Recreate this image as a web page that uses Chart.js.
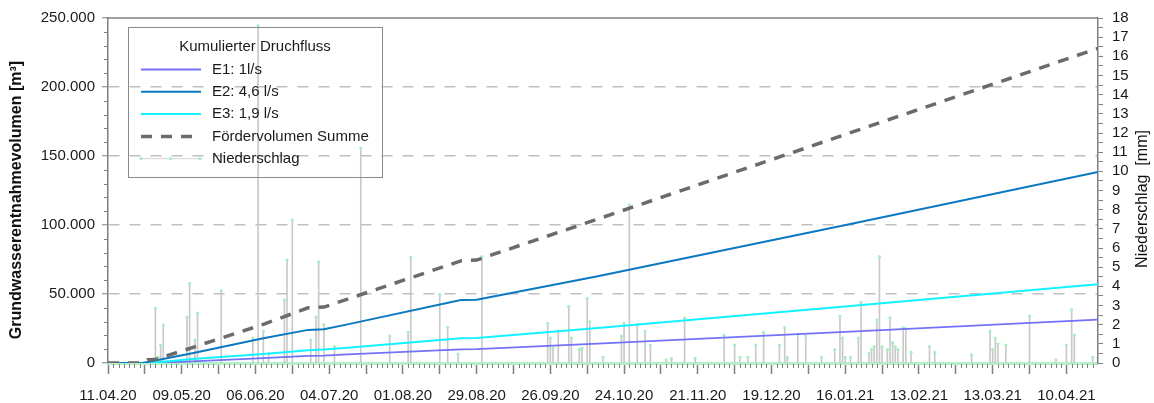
<!DOCTYPE html>
<html>
<head>
<meta charset="utf-8">
<script src="https://cdn.jsdelivr.net/npm/chart.js@4.4.1/dist/chart.umd.min.js"></script>
<style>
  html, body { margin: 0; padding: 0; background: #fff; }
</style>
</head>
<body>
<canvas id="chart" width="1154" height="403"></canvas>
<script>
// cumulative volumes [m³] at break points
const flowDates = ['11.04.20', '24.04.20', '26.04.20', '29.04.20', '13.05.20', '09.06.20', '26.06.20',
                   '02.07.20', '11.07.20', '23.08.20', '29.08.20', '14.10.20', '18.01.21', '22.04.21'];
const e1Values  = [0, 0, 0, 0, 1250, 3600, 5200, 5400, 6200, 9900, 10100, 14000, 22700, 31400];
const e2Values  = [0, 0, 700, 1800, 7000, 17900, 24000, 24500, 28000, 45600, 45800, 62800, 100800, 138400];
const e3Values  = [0, 0, 0, 300, 2900, 6500, 9300, 9700, 11100, 17900, 18200, 25400, 41300, 57000];
const sumValues = [0, 0, 2300, 2500, 11200, 28000, 40000, 40500, 46300, 74000, 74600, 104300, 166900, 228000];

// precipitation [mm]
const rainDates = ['29.04.20', '30.04.20', '01.05.20', '02.05.20', '11.05.20', '12.05.20', '14.05.20', '15.05.20',
  '24.05.20', '05.06.20', '07.06.20', '09.06.20', '11.06.20', '17.06.20', '18.06.20', '20.06.20', '27.06.20',
  '29.06.20', '30.06.20', '02.07.20', '06.07.20', '16.07.20', '27.07.20', '03.08.20', '04.08.20', '15.08.20',
  '18.08.20', '22.08.20', '31.08.20', '25.09.20', '26.09.20', '27.09.20', '29.09.20', '03.10.20', '04.10.20',
  '07.10.20', '08.10.20', '10.10.20', '11.10.20', '16.10.20', '23.10.20', '24.10.20', '26.10.20', '29.10.20',
  '01.11.20', '03.11.20', '09.11.20', '11.11.20', '16.11.20', '20.11.20', '01.12.20', '05.12.20', '07.12.20',
  '10.12.20', '13.12.20', '16.12.20', '22.12.20', '24.12.20', '25.12.20', '29.12.20', '01.01.21', '07.01.21',
  '12.01.21', '14.01.21', '15.01.21', '16.01.21', '18.01.21', '21.01.21', '22.01.21', '25.01.21', '26.01.21',
  '27.01.21', '28.01.21', '29.01.21', '30.01.21', '01.02.21', '02.02.21', '03.02.21', '04.02.21', '05.02.21',
  '07.02.21', '08.02.21', '10.02.21', '17.02.21', '19.02.21', '05.03.21', '12.03.21', '13.03.21', '14.03.21',
  '15.03.21', '18.03.21', '27.03.21', '06.04.21', '10.04.21', '12.04.21', '13.04.21', '20.04.21'];
const rainValues = [2.85, 0.3, 0.94, 1.98, 2.4, 4.16, 1.2, 2.6,
  3.77, 1.3, 17.6, 1.67, 0.5, 3.3, 5.37, 7.46, 1.2,
  2.4, 5.28, 2.0, 0.85, 11.2, 1.41, 1.6, 5.51, 3.58,
  1.86, 0.47, 5.55, 2.07, 1.3, 0.77, 1.67, 2.94, 1.3,
  0.7, 0.77, 3.37, 2.15, 0.3, 1.4, 2.07, 8.24, 2.0,
  1.67, 0.94, 0.16, 0.24, 2.36, 0.24, 1.44, 0.94, 0.3,
  0.3, 0.94, 1.6, 0.94, 1.84, 0.3, 1.5, 1.41, 0.3,
  0.7, 2.45, 1.3, 0.3, 0.3, 1.3, 3.17, 0.5, 0.7,
  0.85, 2.24, 5.55, 0.85, 0.7, 2.36, 1.07, 0.85, 0.7,
  1.84, 1.8, 0.55, 0.85, 0.55, 0.42, 1.67, 0.7, 1.3,
  1.0, 0.94, 2.45, 0.16, 0.94, 2.77, 1.46, 0.3];

const START = new Date(2020, 3, 11);
const LAST_DAY = 376;

function dayOf(s) {
  const [d, m, y] = s.split('.').map(Number);
  return Math.round((new Date(2000 + y, m - 1, d) - START) / 864e5);
}
function fmtDay(n) {
  const d = new Date(2020, 3, 11 + n);
  const p = v => String(v).padStart(2, '0');
  return p(d.getDate()) + '.' + p(d.getMonth() + 1) + '.' + p(d.getFullYear() % 100);
}
function fmtNum(v) {
  return String(v).replace(/\B(?=(\d{3})+(?!\d))/g, '.');
}
const flowPts = vals => flowDates.map((s, i) => ({ x: dayOf(s), y: vals[i] }));
const rainPts = rainDates.map((s, i) => ({ x: dayOf(s), y: rainValues[i] }));

const AXIS = '#7f7f7f';
const FONT = "'Liberation Sans', Arial, sans-serif";
Chart.defaults.font.family = FONT;
Chart.defaults.font.size = 15;
Chart.defaults.color = '#1a1a1a';

const legendItems = [
  { text: 'E1: 1l/s', color: '#7272f6', width: 1.8 },
  { text: 'E2: 4,6 l/s', color: '#0b79c1', width: 2 },
  { text: 'E3: 1,9 l/s', color: '#14f2ff', width: 2 },
  { text: 'Fördervolumen Summe', color: '#6b6b6b', width: 3.5, dash: [11, 9] },
  { text: 'Niederschlag', color: '#d4d4d4', width: 1, dots: '#a8eec0' }
];

const extras = {
  id: 'extras',
  afterDraw(chart) {
    const { ctx, chartArea: a, scales: { x, y } } = chart;
    ctx.save();
    // minor ticks
    ctx.strokeStyle = AXIS;
    ctx.lineWidth = 1;
    ctx.beginPath();
    for (let d = 2; d < LAST_DAY; d += 2) {
      if (d % 14) {
        const px = Math.round(x.getPixelForValue(d)) + 0.5;
        ctx.moveTo(px, a.bottom + 1);
        ctx.lineTo(px, a.bottom + 5);
      }
    }
    for (let v = 10000; v < 250000; v += 10000) {
      if (v % 50000) {
        const py = Math.round(y.getPixelForValue(v)) + 0.5;
        ctx.moveTo(a.left - 4, py);
        ctx.lineTo(a.left, py);
      }
    }
    ctx.stroke();
    // top frame line
    ctx.lineWidth = 1.5;
    ctx.beginPath();
    ctx.moveTo(a.left, a.top);
    ctx.lineTo(a.right, a.top);
    ctx.stroke();

    // axis titles
    ctx.fillStyle = '#111';
    ctx.textAlign = 'center';
    ctx.textBaseline = 'middle';
    ctx.save();
    ctx.translate(17, 200);
    ctx.rotate(-Math.PI / 2);
    ctx.font = 'bold 16px ' + FONT;
    ctx.fillText('Grundwasserentnahmevolumen [m³]', 0, 0);
    ctx.restore();
    ctx.save();
    ctx.translate(1143, 199);
    ctx.rotate(-Math.PI / 2);
    ctx.font = '16px ' + FONT;
    ctx.fillText('Niederschlag  [mm]', 0, 0);
    ctx.restore();

    // legend box
    ctx.strokeStyle = '#8a8a8a';
    ctx.lineWidth = 1;
    ctx.strokeRect(128.5, 27.5, 254, 150);
    ctx.font = '15px ' + FONT;
    ctx.fillStyle = '#1a1a1a';
    ctx.fillText('Kumulierter Druchfluss', 255, 47);
    ctx.textAlign = 'left';
    legendItems.forEach((it, i) => {
      const ly = 69.5 + i * 22.3;
      ctx.strokeStyle = it.color;
      ctx.lineWidth = it.width;
      ctx.setLineDash(it.dash || []);
      ctx.beginPath();
      ctx.moveTo(141, ly);
      ctx.lineTo(201, ly);
      ctx.stroke();
      ctx.setLineDash([]);
      if (it.dots) {
        ctx.fillStyle = it.dots;
        [141, 170.5, 200].forEach(dx => { ctx.beginPath(); ctx.arc(dx, ly, 1.6, 0, Math.PI * 2); ctx.fill(); });
      }
      ctx.fillStyle = '#1a1a1a';
      ctx.fillText(it.text, 212, ly);
    });
    ctx.restore();
  }
};

new Chart(document.getElementById('chart'), {
  type: 'line',
  data: {
    datasets: [
      { label: 'Fördervolumen Summe', data: flowPts(sumValues), borderColor: legendItems[3].color,
        borderWidth: 3.5, borderDash: [11, 9], pointRadius: 0, yAxisID: 'y', order: 1 },
      { label: 'E2: 4,6 l/s', data: flowPts(e2Values), borderColor: legendItems[1].color,
        borderWidth: 2, pointRadius: 0, yAxisID: 'y', order: 2 },
      { label: 'E3: 1,9 l/s', data: flowPts(e3Values), borderColor: legendItems[2].color,
        borderWidth: 2, pointRadius: 0, yAxisID: 'y', order: 3 },
      { label: 'E1: 1l/s', data: flowPts(e1Values), borderColor: legendItems[0].color,
        borderWidth: 1.8, pointRadius: 0, yAxisID: 'y', order: 4 },
      { label: 'Niederschlag (Messwerte)', data: rainPts, showLine: false, pointRadius: 1.6,
        pointBackgroundColor: '#a8eec0', pointBorderWidth: 0, yAxisID: 'y2', order: 8 },
      { type: 'bar', label: 'Niederschlag', data: rainPts, backgroundColor: '#c9c9c9',
        barThickness: 1, yAxisID: 'y2', order: 9 }
    ]
  },
  options: {
    responsive: false,
    animation: false,
    layout: { padding: { top: 18, left: 0, right: 0, bottom: 0 } },
    plugins: { legend: { display: false }, tooltip: { enabled: false } },
    elements: { line: { tension: 0 } },
    scales: {
      x: {
        type: 'linear', min: 0, max: LAST_DAY, offset: false,
        afterBuildTicks: s => {
          const t = [];
          for (let d = 0; d <= 364; d += 14) t.push({ value: d });
          s.ticks = t;
        },
        afterFit: s => { s.height = 40; },
        ticks: { autoSkip: false, maxRotation: 0, padding: 13,
                 callback: v => (v % 28 === 0 ? fmtDay(v) : '') },
        grid: { drawOnChartArea: false, offset: false, tickLength: 11, tickColor: AXIS, tickWidth: 1.5 },
        border: { color: '#b4efc8', width: 3 }
      },
      y: {
        min: 0, max: 250000,
        afterFit: s => { s.width = 108; },
        ticks: { stepSize: 50000, padding: 7, callback: v => fmtNum(v) },
        grid: { color: c => (c.tick && c.tick.value > 0 && c.tick.value < 250000 ? '#c0c0c0' : 'rgba(0,0,0,0)'),
                lineWidth: 1.5, tickLength: 6, tickColor: AXIS, tickWidth: 1 },
        border: { color: AXIS, width: 1.5, dash: [11, 10] }
      },
      y2: {
        position: 'right', min: 0, max: 18,
        afterFit: s => { s.width = 56; },
        ticks: { stepSize: 0.5, autoSkip: false, padding: 9,
                 callback: v => (Number.isInteger(v) ? v : '') },
        grid: { drawOnChartArea: false, tickLength: 5, tickColor: AXIS },
        border: { color: AXIS, width: 1.5 }
      }
    }
  },
  plugins: [extras]
});
</script>
</body>
</html>
